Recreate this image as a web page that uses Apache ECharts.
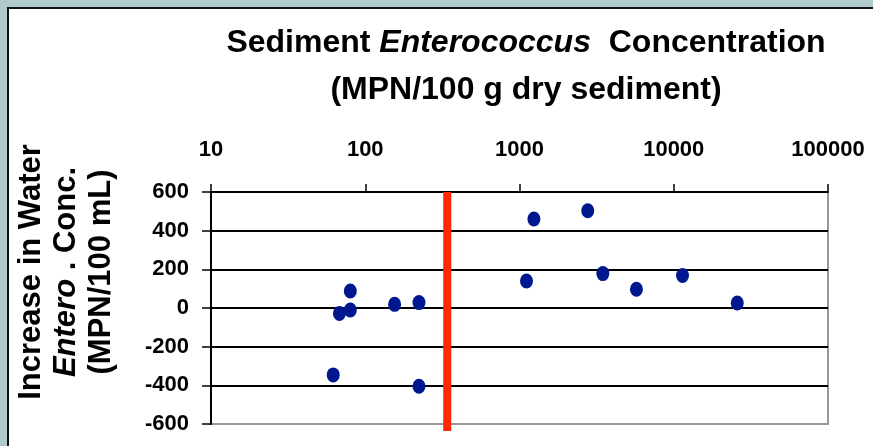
<!DOCTYPE html>
<html>
<head>
<meta charset="utf-8">
<script src="https://cdn.jsdelivr.net/npm/echarts@6/dist/echarts.min.js"></script>
<style>
  html, body { margin: 0; padding: 0; background: #afc9cc; }
  #chart { width: 873px; height: 446px; }
</style>
</head>
<body>
<div id="chart"></div>
<script>
// sediment Enterococcus (MPN/100 g) vs increase in water Entero (MPN/100 mL)
var sediment = [62, 68, 80, 80, 155, 223, 223, 1110, 1240, 2770, 3470, 5730, 11400, 25800];
var increase = [-346, -28, 88, -10, 19, 28, -405, 140, 460, 503, 178, 97, 168, 26];
var threshold = 340;
var thresholdSpan = [600, -636];
var xTicks = [10, 100, 1000, 10000, 100000];
var yTicks = [-600, -400, -200, 0, 200, 400, 600];

var points = [];
for (var i = 0; i < sediment.length; i++) {
    points.push([sediment[i], increase[i]]);
}

var chart = echarts.init(document.getElementById('chart'));
chart.setOption({
    animation: false,
    textStyle: { fontFamily: 'Liberation Sans' },
    graphic: [{
        type: 'rect',
        z: -10,
        shape: { x: 8, y: 8, width: 900, height: 500 },
        style: { fill: '#fff', stroke: '#111', lineWidth: 2 }
    }],
    title: {
        left: 521,
        top: 15,
        textAlign: 'center',
        text: '{n|Sediment }{i|Enterococcus}{n|  Concentration}\n{n|(MPN/100 g dry sediment)}',
        textStyle: {
            rich: {
                n: { fontSize: 32, fontWeight: 'bold', color: '#000', lineHeight: 47, fontFamily: 'Liberation Sans' },
                i: { fontSize: 32, fontWeight: 'bold', fontStyle: 'italic', color: '#000', lineHeight: 47, fontFamily: 'Liberation Sans' }
            }
        }
    },
    grid: {
        left: 211, right: 45, top: 192, bottom: 22,
        show: true, borderColor: '#999', borderWidth: 2, backgroundColor: 'transparent'
    },
    xAxis: {
        type: 'log',
        logBase: 10,
        position: 'top',
        min: xTicks[0],
        max: xTicks[xTicks.length - 1],
        axisLine: { onZero: false, lineStyle: { color: '#000', width: 2 } },
        axisTick: { show: true, inside: false, length: 8, lineStyle: { color: '#000', width: 1.5 } },
        axisLabel: {
            margin: 31, fontSize: 22, fontWeight: 'bold', color: '#000',
            formatter: function (v) { return String(Math.round(v)); }
        },
        splitLine: { show: false },
        minorTick: { show: false }
    },
    yAxis: {
        type: 'value',
        min: yTicks[0],
        max: yTicks[yTicks.length - 1],
        interval: 200,
        name: '{b|Increase in Water}\n{i|Entero}{b| . Conc.}\n{b|(MPN/100 mL)}',
        nameLocation: 'middle',
        nameRotate: 90,
        nameGap: 92,
        nameTextStyle: {
            padding: [0, 0, 0, 72],
            rich: {
                b: { fontSize: 31, fontWeight: 'bold', color: '#000', lineHeight: 35, fontFamily: 'Liberation Sans' },
                i: { fontSize: 31, fontWeight: 'bold', fontStyle: 'italic', color: '#000', lineHeight: 35, fontFamily: 'Liberation Sans' }
            }
        },
        axisLine: { show: true, onZero: false, lineStyle: { color: '#000', width: 2 } },
        axisTick: { show: true, length: 9, lineStyle: { color: '#000', width: 1.5 } },
        axisLabel: { margin: 22, fontSize: 22, fontWeight: 'bold', color: '#000' },
        splitLine: { show: true, lineStyle: { color: ['#999', '#000', '#000', '#000', '#000', '#000', '#000'], width: 2 } }
    },
    series: [
        {
            type: 'line',
            data: [[threshold, thresholdSpan[0]], [threshold, thresholdSpan[1]]],
            symbol: 'none',
            clip: false,
            lineStyle: { color: '#ff2a00', width: 8 },
            z: 3
        },
        {
            type: 'scatter',
            data: points,
            symbol: 'circle',
            symbolSize: [13, 15],
            itemStyle: { color: '#00188f', opacity: 1 },
            z: 4
        }
    ]
});
</script>
</body>
</html>
